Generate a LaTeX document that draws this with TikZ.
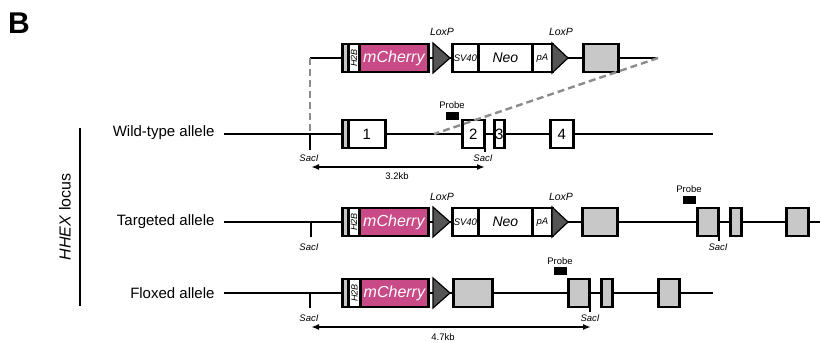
\documentclass[tikz,border=0pt]{standalone}
\usepackage{fontspec}
\setmainfont{Liberation Sans}
\usetikzlibrary{arrows.meta}
\definecolor{cherry}{RGB}{200,74,134}
\definecolor{exgray}{RGB}{200,200,200}
\definecolor{loxgray}{RGB}{85,85,85}
\definecolor{zoomgray}{RGB}{140,140,140}

\begin{document}
\begin{tikzpicture}[x=1pt,y=-1pt,>={Latex[length=8pt,width=6pt]},
  bb/.style={line width=2.2pt},
  cut/.style={line width=2.8pt},
  box/.style={draw=black,line width=2.8pt,minimum height=28pt,inner sep=0pt,anchor=west},
  wbox/.style={box,fill=white},
  gbox/.style={box,fill=exgray},
  stripe/.style={box,fill=black!22,minimum width=6pt},
  mch/.style={box,fill=cherry,text=white,font=\fontsize{16}{18}\selectfont\itshape},
  num/.style={font=\fontsize{15}{17}\selectfont},
  tiny/.style={font=\fontsize{9.5}{11}\selectfont\itshape},
  loxp/.style={fill=loxgray,draw=black,line width=1.2pt,line join=miter},
  loxlbl/.style={font=\fontsize{10.5}{12}\selectfont\itshape},
  probe/.style={fill=black,minimum width=13pt,minimum height=8pt,inner sep=0pt},
  small/.style={font=\fontsize{9.5}{11}\selectfont},
  sac/.style={font=\fontsize{9.5}{10}\selectfont\itshape},
  lbl/.style={font=\fontsize{15}{17}\selectfont,anchor=east},
  size/.style={<->,line width=1.8pt},
  zoomline/.style={draw=zoomgray,dash pattern=on 7pt off 4pt,line width=2.4pt}]
\useasboundingbox (0,0) rectangle (820,343);

\node[font=\fontsize{30}{30}\selectfont\bfseries] (panel_t) at (19,23) {B};
\coordinate (locus_a) at (80,128);
\coordinate (locus_b) at (80,306);
\draw[bb] (locus_a) -- (locus_b);
\node[rotate=90,font=\fontsize{16}{18}\selectfont] (locus_t) at (65,217) {\textit{HHEX} locus};

\node[lbl] (wt_t) at (218,133) {Wild-type allele};
\node[lbl] (tg_t) at (218,222) {Targeted allele};
\node[lbl] (fl_t) at (218,293) {Floxed allele};

\coordinate (top_a) at (310,58);
\coordinate (top_b) at (658,58);
\draw[bb] (top_a) -- (top_b);
\node[stripe] (top_st) at (341,58) {};
\node[wbox,minimum width=11pt] (top_h2b) at (347,58) {\rotatebox{90}{\fontsize{9}{10}\selectfont\itshape H2B}};
\node[mch,minimum width=69pt] (top_mch) at (358,58) {mCherry};
\coordinate (top_lox1) at (433,58);
\filldraw[loxp] (top_lox1) ++(0,-15) -- ++(17,15) -- ++(-17,15) -- cycle;
\node[wbox,tiny,minimum width=26pt] (top_sv40) at (451,58) {SV40};
\node[wbox,minimum width=54pt,font=\fontsize{14}{16}\selectfont\itshape] (top_neo) at (477,58) {Neo};
\node[wbox,tiny,minimum width=20pt] (top_pa) at (531,58) {pA};
\coordinate (top_lox2) at (552,58);
\filldraw[loxp] (top_lox2) ++(0,-15) -- ++(16,15) -- ++(-16,15) -- cycle;
\node[gbox,minimum width=35pt] (top_ex) at (582,58) {};
\node[loxlbl] (top_lox1_t) at (442,32) {LoxP};
\node[loxlbl] (top_lox2_t) at (561,32) {LoxP};

\coordinate (wt_a) at (224,134);
\coordinate (wt_b) at (713,134);
\draw[bb] (wt_a) -- (wt_b);
\coordinate (wt_sac1) at (310,134);
\draw[cut] (wt_sac1) -- ++(0,16);
\node[sac] (wt_sac1_t) at (309,158) {SacI};
\node[stripe] (wt_st) at (341,134) {};
\node[wbox,num,minimum width=37pt] (wt_e1) at (347,134) {1};
\coordinate (wt_sac2) at (485,134);
\draw[cut] (wt_sac2) -- ++(0,18);
\node[wbox,num,minimum width=22pt] (wt_e2) at (461,134) {2};
\node[wbox,num,minimum width=10pt] (wt_e3) at (493,134) {3};
\node[wbox,num,minimum width=23pt] (wt_e4) at (549,134) {4};
\node[probe] (wt_pr) at (452,116) {};
\node[small] (wt_pr_t) at (452,105) {Probe};
\node[sac] (wt_sac2_t) at (483,158) {SacI};
\coordinate (wt_m1) at (311,167);
\coordinate (wt_m2) at (485,167);
\draw[size] (wt_m1) -- (wt_m2);
\node[small] (wt_kb) at (397,176) {3.2kb};

\coordinate (wt_z1) at (310,134);
\coordinate (wt_z2) at (434,134);
\draw[zoomline] (top_a) -- (wt_z1);
\draw[zoomline] (top_b) -- (wt_z2);

\coordinate (tg_a) at (224,222);
\coordinate (tg_b) at (822,222);
\draw[bb] (tg_a) -- (tg_b);
\coordinate (tg_sac1) at (311,222);
\draw[cut] (tg_sac1) -- ++(0,15);
\node[sac] (tg_sac1_t) at (309,247) {SacI};
\node[stripe] (tg_st) at (341,222) {};
\node[wbox,minimum width=11pt] (tg_h2b) at (347,222) {\rotatebox{90}{\fontsize{9}{10}\selectfont\itshape H2B}};
\node[mch,minimum width=69pt] (tg_mch) at (358,222) {mCherry};
\coordinate (tg_lox1) at (433,222);
\filldraw[loxp] (tg_lox1) ++(0,-15) -- ++(17,15) -- ++(-17,15) -- cycle;
\node[wbox,tiny,minimum width=26pt] (tg_sv40) at (451,222) {SV40};
\node[wbox,minimum width=54pt,font=\fontsize{14}{16}\selectfont\itshape] (tg_neo) at (477,222) {Neo};
\node[wbox,tiny,minimum width=20pt] (tg_pa) at (531,222) {pA};
\coordinate (tg_lox2) at (552,222);
\filldraw[loxp] (tg_lox2) ++(0,-15) -- ++(16,15) -- ++(-16,15) -- cycle;
\node[gbox,minimum width=35pt] (tg_ex) at (581,222) {};
\node[loxlbl] (tg_lox1_t) at (442,197) {LoxP};
\node[loxlbl] (tg_lox2_t) at (561,197) {LoxP};
\coordinate (tg_sac2) at (719,222);
\draw[cut] (tg_sac2) -- ++(0,19);
\node[gbox,minimum width=21pt] (tg_e2) at (696,222) {};
\node[gbox,minimum width=11pt] (tg_e3) at (729,222) {};
\node[gbox,minimum width=22pt] (tg_e4) at (785,222) {};
\node[probe] (tg_pr) at (689,200) {};
\node[small] (tg_pr_t) at (689,189) {Probe};
\node[sac] (tg_sac2_t) at (718,247) {SacI};

\coordinate (fl_a) at (224,293);
\coordinate (fl_b) at (713,293);
\draw[bb] (fl_a) -- (fl_b);
\coordinate (fl_sac1) at (310,293);
\draw[cut] (fl_sac1) -- ++(0,15);
\node[sac] (fl_sac1_t) at (309,318) {SacI};
\node[stripe] (fl_st) at (341,293) {};
\node[wbox,minimum width=12pt] (fl_h2b) at (347,293) {\rotatebox{90}{\fontsize{9}{10}\selectfont\itshape H2B}};
\node[mch,minimum width=68pt] (fl_mch) at (359,293) {mCherry};
\coordinate (fl_lox) at (433,293);
\filldraw[loxp] (fl_lox) ++(0,-15) -- ++(17,15) -- ++(-17,15) -- cycle;
\node[gbox,minimum width=39pt] (fl_ex) at (452,293) {};
\coordinate (fl_sac2) at (590,293);
\draw[cut] (fl_sac2) -- ++(0,19);
\node[gbox,minimum width=21pt] (fl_e2) at (567,293) {};
\node[gbox,minimum width=11pt] (fl_e3) at (600,293) {};
\node[gbox,minimum width=21pt] (fl_e4) at (657,293) {};
\node[probe] (fl_pr) at (560,271) {};
\node[small] (fl_pr_t) at (560,261) {Probe};
\node[sac] (fl_sac2_t) at (590,318) {SacI};
\coordinate (fl_m1) at (311,327);
\coordinate (fl_m2) at (591,327);
\draw[size] (fl_m1) -- (fl_m2);
\node[small] (fl_kb) at (443,337) {4.7kb};
\end{tikzpicture}
\end{document}
